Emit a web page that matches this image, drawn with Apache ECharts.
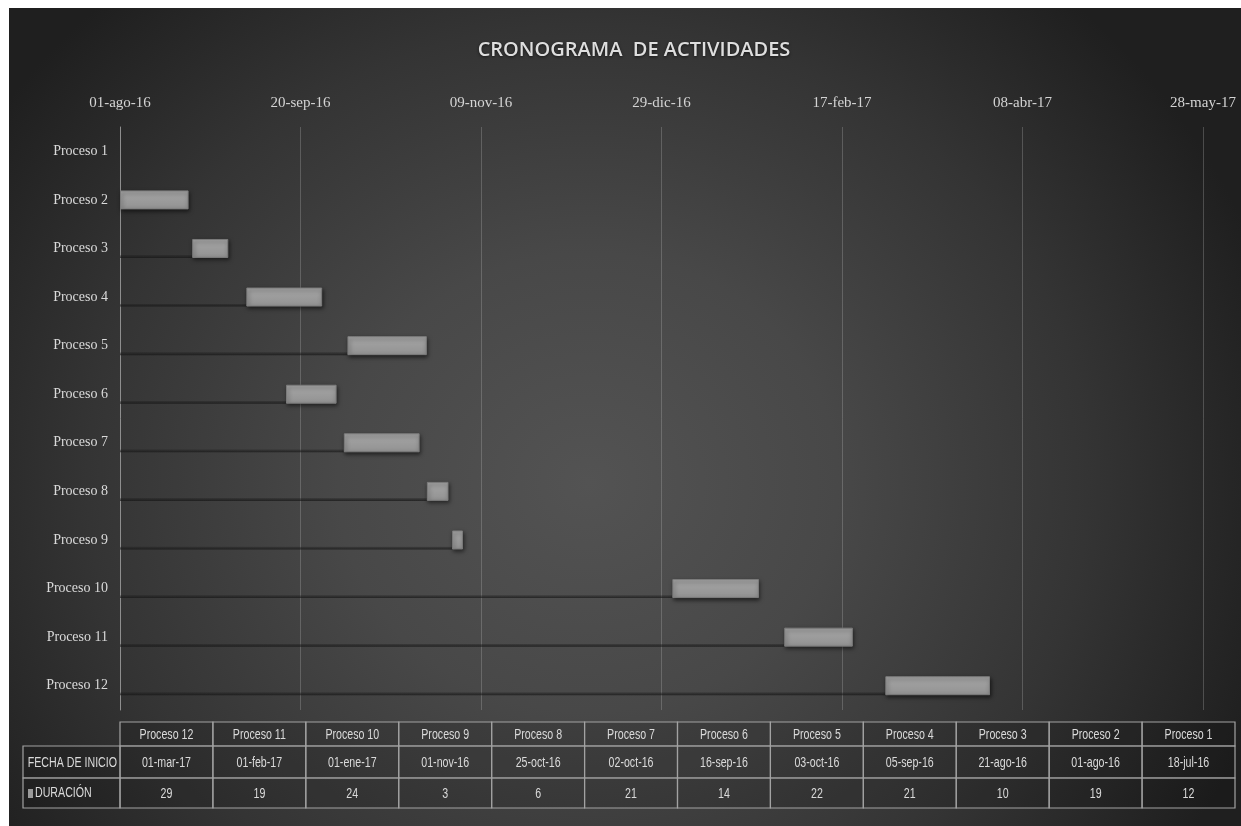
<!DOCTYPE html>
<html>
<head>
<meta charset="utf-8">
<script src="https://cdn.jsdelivr.net/npm/echarts@6/dist/echarts.min.js"></script>
<style>
  html, body { margin: 0; padding: 0; background: #ffffff; }
  #bg { position: absolute; left: 9px; top: 8px; width: 1232px; height: 818px;
        background: radial-gradient(ellipse 58% 80% at 47% 58%, #535353 0%, #484848 35%, #343434 70%, #1f1f1f 100%); }
  #chart { position: absolute; left: 0; top: 0; width: 1241px; height: 826px; }
</style>
</head>
<body>
<div id="bg"></div>
<div id="chart"></div>
<script>
// ---- data ----
const categories = ['Proceso 1','Proceso 2','Proceso 3','Proceso 4','Proceso 5','Proceso 6',
                    'Proceso 7','Proceso 8','Proceso 9','Proceso 10','Proceso 11','Proceso 12'];
const startDates = ['2016-07-18','2016-08-01','2016-08-21','2016-09-05','2016-10-03','2016-09-16',
                    '2016-10-02','2016-10-25','2016-11-01','2017-01-01','2017-02-01','2017-03-01'];
const durations  = [12, 19, 10, 21, 22, 14, 21, 6, 3, 24, 19, 29];
const axisStartDate = '2016-08-01';
const tickStepDays = 50;
const tickLabels = ['01-ago-16','20-sep-16','09-nov-16','29-dic-16','17-feb-17','08-abr-17','28-may-17'];
const tableRowLabels = ['FECHA DE INICIO', 'DURACIÓN'];
const titleText = 'CRONOGRAMA  DE ACTIVIDADES';

// ---- helpers ----
const MONTHS = ['ene','feb','mar','abr','may','jun','jul','ago','sep','oct','nov','dic'];
function dayNum(s) { const p = s.split('-').map(Number); return Date.UTC(p[0], p[1]-1, p[2]) / 86400000; }
function fmtDate(s) { const p = s.split('-').map(Number); return String(p[2]).padStart(2,'0') + '-' + MONTHS[p[1]-1] + '-' + String(p[0]).slice(2); }
const base = dayNum(axisStartDate);
const offsets = startDates.map(s => dayNum(s) - base);

// ---- layout ----
const GRID_L = 120, GRID_R = 38, GRID_T = 127, GRID_B = 116;
const TBL_X0 = 23, TBL_X1 = 120, TBL_X2 = 1235;
const ROW_Y = [722, 746, 778, 808];
const lineCol = '#a2a2a2';
const txtCol = '#dadada';
const tblFont = "14px 'Liberation Sans', Arial, sans-serif";
const NARROW = 0.76;

function narrowText(str, x, y, align) {
  return { type: 'text', silent: true, x: x, y: y, scaleX: NARROW, scaleY: 1,
    style: { text: str, x: 0, y: 0, align: align, verticalAlign: 'middle', fill: txtCol, font: tblFont } };
}

const graphics = [];
const nCol = categories.length;
const colW = (TBL_X2 - TBL_X1) / nCol;
// columns shown in reverse order (Proceso 12 ... Proceso 1)
for (let c = 0; c < nCol; c++) {
  const idx = nCol - 1 - c;
  const x = TBL_X1 + c * colW;
  const cells = [categories[idx], fmtDate(startDates[idx]), String(durations[idx])];
  for (let r = 0; r < 3; r++) {
    graphics.push({ type: 'rect', silent: true,
      shape: { x: x, y: ROW_Y[r], width: colW, height: ROW_Y[r+1] - ROW_Y[r] },
      style: { fill: 'rgba(0,0,0,0.12)', stroke: lineCol, lineWidth: 1.2 } });
    graphics.push(narrowText(cells[r], x + colW / 2, (ROW_Y[r] + ROW_Y[r+1]) / 2 + 1, 'center'));
  }
}
// left label column
for (let r = 1; r < 3; r++) {
  graphics.push({ type: 'rect', silent: true,
    shape: { x: TBL_X0, y: ROW_Y[r], width: TBL_X1 - TBL_X0, height: ROW_Y[r+1] - ROW_Y[r] },
    style: { fill: 'rgba(0,0,0,0.12)', stroke: lineCol, lineWidth: 1.2 } });
}
graphics.push(narrowText(tableRowLabels[0], TBL_X1 - 3, (ROW_Y[1] + ROW_Y[2]) / 2 + 1, 'right'));
graphics.push({ type: 'rect', silent: true,
  shape: { x: 28, y: (ROW_Y[2] + ROW_Y[3]) / 2 - 4, width: 5, height: 9 },
  style: { fill: '#9a9a9a' } });
graphics.push(narrowText(tableRowLabels[1], 35, (ROW_Y[2] + ROW_Y[3]) / 2, 'left'));

const chart = echarts.init(document.getElementById('chart'), null, { renderer: 'canvas' });
chart.setOption({
  backgroundColor: 'transparent',
  animation: false,
  title: {
    text: titleText, left: 629, top: 35, textAlign: 'center',
    textStyle: { color: '#dedede', fontSize: 20, fontWeight: 600, fontFamily: 'Open Sans',
                 textShadowColor: 'rgba(0,0,0,0.6)', textShadowBlur: 3, textShadowOffsetY: 1 }
  },
  grid: { left: GRID_L, right: GRID_R, top: GRID_T, bottom: GRID_B, containLabel: false },
  xAxis: {
    type: 'value', position: 'top',
    min: 0, max: (tickLabels.length - 1) * tickStepDays, interval: tickStepDays,
    axisLine: { show: false }, axisTick: { show: false },
    splitLine: { show: true, lineStyle: { color: 'rgba(190,190,190,0.28)', width: 1 } },
    axisLabel: {
      margin: 16, color: '#d4d4d4', fontSize: 15, fontFamily: "'Liberation Serif', serif",
      formatter: v => tickLabels[Math.round(v / tickStepDays)] || ''
    }
  },
  yAxis: {
    type: 'category', inverse: true, data: categories,
    axisLine: { show: true, lineStyle: { color: '#8e8e8e', width: 1 } },
    axisTick: { show: false },
    axisLabel: { margin: 12, color: '#dadada', fontSize: 14, fontFamily: "'Liberation Serif', serif" }
  },
  series: [
    {
      name: 'FECHA DE INICIO', type: 'bar', stack: 'gantt', stackStrategy: 'all',
      barWidth: 19, data: offsets, silent: true,
      itemStyle: {
        color: { type: 'linear', x: 0, y: 0, x2: 0, y2: 1, colorStops: [
          { offset: 0, color: 'rgba(0,0,0,0)' },
          { offset: 0.84, color: 'rgba(0,0,0,0)' },
          { offset: 0.88, color: 'rgba(25,25,25,0.35)' },
          { offset: 1, color: 'rgba(20,20,20,0.7)' }
        ] }
      }
    },
    {
      name: 'DURACIÓN', type: 'bar', stack: 'gantt', stackStrategy: 'all',
      barWidth: 19, data: durations,
      itemStyle: {
        color: { type: 'linear', x: 0, y: 0, x2: 0, y2: 1, colorStops: [
          { offset: 0, color: '#a6a6a6' }, { offset: 1, color: '#929292' }
        ] },
        borderColor: '#7c7c7c', borderWidth: 1,
        shadowColor: 'rgba(0,0,0,0.55)', shadowBlur: 4, shadowOffsetX: 1, shadowOffsetY: 2
      }
    }
  ],
  graphic: graphics
});
</script>
</body>
</html>
